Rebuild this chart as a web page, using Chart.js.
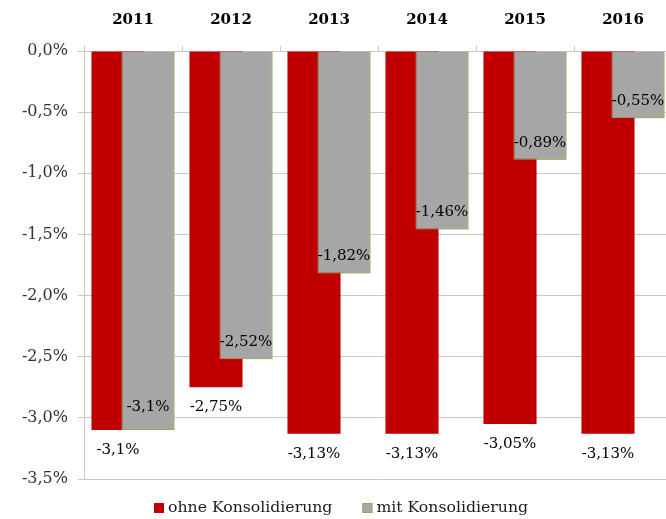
<!DOCTYPE html>
<html>
<head>
<meta charset="utf-8">
<script src="https://cdn.jsdelivr.net/npm/chart.js@4/dist/chart.umd.min.js"></script>
<style>
  html, body { margin: 0; padding: 0; background: #fff; overflow: hidden; }
  /* plot area runs a few pixels past the right edge, like the original */
  #wrap { width: 666px; height: 519px; overflow: hidden; }
</style>
</head>
<body>
<div id="wrap"><canvas id="chart" width="672" height="519"></canvas></div>
<script>
const years = ['2011', '2012', '2013', '2014', '2015', '2016'];
const ohneValues = [-3.1, -2.75, -3.13, -3.13, -3.05, -3.13];
const mitValues = [-3.1, -2.52, -1.82, -1.46, -0.89, -0.55];
const seriesNames = ['ohne Konsolidierung', 'mit Konsolidierung'];
const yTicks = [0, -0.5, -1, -1.5, -2, -2.5, -3, -3.5];

const fmt = v => String(v).replace('.', ',') + '%';
const serif = 'DejaVu Serif';
const red = '#c00000';
const gray = '#a6a6a6';

// gray bars sit on top of the red ones, then the value labels and legend
const overlay = {
  id: 'overlay',
  afterDatasetsDraw(chart) {
    const ctx = chart.ctx;
    chart.getDatasetMeta(1).controller.draw();
    ctx.save();
    ctx.font = '15px "' + serif + '"';
    ctx.fillStyle = '#000';
    ctx.textAlign = 'center';
    ctx.textBaseline = 'middle';
    chart.getDatasetMeta(0).data.forEach((bar, i) => {
      ctx.fillText(fmt(ohneValues[i]), bar.x, bar.y + 20);
    });
    chart.getDatasetMeta(1).data.forEach((bar, i) => {
      let off = i === 0 ? 23 : 17;
      ctx.fillText(fmt(mitValues[i]), bar.x, bar.y - off);
    });
    ctx.restore();
  },
  afterDraw(chart) {
    const ctx = chart.ctx;
    ctx.save();
    ctx.font = '15.7px "' + serif + '"';
    ctx.textBaseline = 'middle';
    ctx.textAlign = 'left';
    let x = 154;
    const y = 508;
    const cols = [red, gray];
    seriesNames.forEach((name, i) => {
      ctx.fillStyle = cols[i];
      ctx.fillRect(x, y - 5, 10, 10);
      if (i === 1) {
        ctx.strokeStyle = '#8fb04a';
        ctx.lineWidth = 1;
        ctx.strokeRect(x + 0.5, y - 4.5, 9, 9);
      }
      x += 14;
      ctx.fillStyle = '#1a1a1a';
      ctx.fillText(name, x, y);
      x += ctx.measureText(name).width + 30;
    });
    ctx.restore();
  }
};

const ctx = document.getElementById('chart').getContext('2d');
new Chart(ctx, {
  type: 'bar',
  data: {
    labels: years,
    datasets: [
      {
        label: seriesNames[0],
        data: ohneValues,
        backgroundColor: red,
        borderWidth: 0,
        categoryPercentage: 0.612,
        barPercentage: 1.77
      },
      {
        label: seriesNames[1],
        data: mitValues,
        backgroundColor: gray,
        borderColor: '#8fb04a',
        borderWidth: 1,
        categoryPercentage: 0.612,
        barPercentage: 1.77
      }
    ]
  },
  options: {
    responsive: false,
    animation: false,
    layout: { padding: { left: 0, right: 0, top: 0, bottom: 40 } },
    plugins: {
      legend: { display: false },
      tooltip: { enabled: false }
    },
    scales: {
      x: {
        position: 'top',
        afterFit: s => { s.height = 51; },
        grid: {
          offset: true,
          drawOnChartArea: false,
          tickLength: 5,
          color: '#c8c8c8'
        },
        border: { display: false },
        ticks: {
          font: { family: serif, size: 15, weight: 'bold' },
          color: '#000',
          padding: 17
        }
      },
      y: {
        min: -3.5,
        max: 0,
        afterFit: s => { s.width = 84; },
        afterBuildTicks: s => { s.ticks = yTicks.map(v => ({ value: v })); },
        grid: {
          color: '#c8c8c8',
          tickLength: 6
        },
        border: { color: '#c8c8c8' },
        ticks: {
          font: { family: serif, size: 16 },
          color: '#333',
          padding: 10,
          callback: v => v.toFixed(1).replace('.', ',') + '%'
        }
      }
    }
  },
  plugins: [overlay]
});
</script>
</body>
</html>
